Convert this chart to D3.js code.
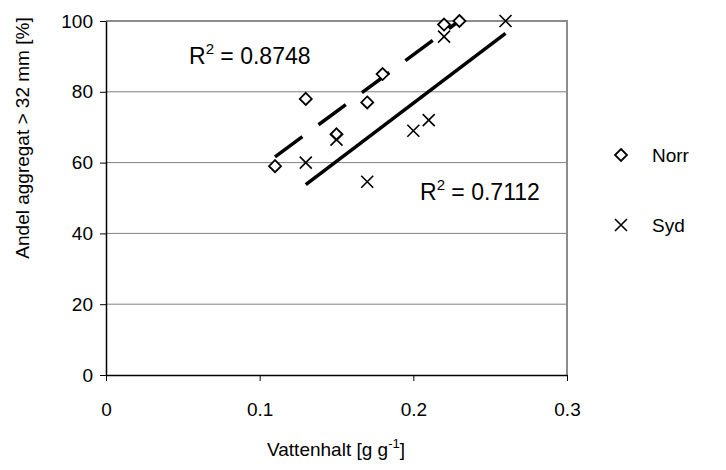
<!DOCTYPE html>
<html>
<head>
<meta charset="utf-8">
<script src="https://cdn.jsdelivr.net/npm/d3@7"></script>
<style>
  body { margin: 0; background: #fff; }
  svg { display: block; font-family: "Liberation Sans", Arial, sans-serif; }
</style>
</head>
<body>
<svg id="chart" width="726" height="470"></svg>
<script>
// Water content (g/g) vs share of aggregates > 32 mm (%)
const norrX = [0.11, 0.13, 0.15, 0.17, 0.18, 0.22, 0.23];
const norrY = [59, 78, 68, 77, 85, 99, 100];
const sydX = [0.13, 0.15, 0.17, 0.20, 0.21, 0.22, 0.26];
const sydY = [60, 66.5, 54.6, 69, 72, 95.6, 100];
const xTicks = [0, 0.1, 0.2, 0.3];
const yTicks = [0, 20, 40, 60, 80, 100];
const seriesNames = ["Norr", "Syd"];
const r2Labels = ["0.8748", "0.7112"];

const svg = d3.select("#chart");
const plotL = 106, plotR = 567, plotT = 21, plotB = 375;
const fs = 19;     // axis, tick and legend text
const fsR2 = 23;   // regression labels

const x = d3.scaleLinear().domain([0, 0.3]).range([plotL, plotR]);
const y = d3.scaleLinear().domain([0, 100]).range([plotB, plotT]);

// horizontal gridlines
svg.append("g").selectAll("line").data(yTicks.filter(d => d > 0 && d < 100)).join("line")
  .attr("x1", plotL).attr("x2", plotR)
  .attr("y1", d => y(d)).attr("y2", d => y(d))
  .attr("stroke", "#808080").attr("stroke-width", 1);

// plot frame (top and right)
svg.append("path")
  .attr("d", `M${plotL},${plotT}H${plotR}V${plotB}`)
  .attr("fill", "none").attr("stroke", "#8c8c8c").attr("stroke-width", 2);

// axes
const xAxis = d3.axisBottom(x).tickValues(xTicks).tickFormat(d => d === 0 ? "0" : d3.format(".1f")(d)).tickSizeInner(6).tickSizeOuter(0).tickPadding(22);
const yAxis = d3.axisLeft(y).tickValues(yTicks).tickSizeInner(6).tickSizeOuter(0).tickPadding(7);

const gx = svg.append("g").attr("transform", `translate(0,${plotB})`).call(xAxis);
const gy = svg.append("g").attr("transform", `translate(${plotL},0)`).call(yAxis);
[gx, gy].forEach(g => {
  g.select(".domain").attr("stroke", "#000").attr("stroke-width", 1.5);
  g.selectAll(".tick line").attr("stroke", "#000").attr("stroke-width", 1);
  g.selectAll(".tick text").attr("font-size", fs).attr("fill", "#000")
    .attr("font-family", "'Liberation Sans', Arial, sans-serif");
});

// least-squares trendline
function fit(xs, ys) {
  const mx = d3.mean(xs), my = d3.mean(ys);
  let sxy = 0, sxx = 0;
  xs.forEach((v, i) => { sxy += (v - mx) * (ys[i] - my); sxx += (v - mx) ** 2; });
  const b = sxy / sxx;
  return { b, a: my - b * mx };
}
function trend(xs, ys, dash) {
  const f = fit(xs, ys);
  const x0 = d3.min(xs), x1 = d3.max(xs);
  svg.append("line")
    .attr("x1", x(x0)).attr("y1", y(f.a + f.b * x0))
    .attr("x2", x(x1)).attr("y2", y(f.a + f.b * x1))
    .attr("stroke", "#000").attr("stroke-width", 3.5)
    .attr("stroke-dasharray", dash);
}
trend(norrX, norrY, "34,20");
trend(sydX, sydY, null);

// markers
const diamond = (g, cx, cy) => g.append("path")
  .attr("d", `M${cx},${cy - 6}L${cx + 6},${cy}L${cx},${cy + 6}L${cx - 6},${cy}Z`)
  .attr("fill", "#fff").attr("stroke", "#000").attr("stroke-width", 1.8);
const cross = (g, cx, cy) => g.append("path")
  .attr("d", `M${cx - 6},${cy - 6}L${cx + 6},${cy + 6}M${cx - 6},${cy + 6}L${cx + 6},${cy - 6}`)
  .attr("stroke", "#000").attr("stroke-width", 1.6).attr("fill", "none");

const pts = svg.append("g");
norrX.forEach((v, i) => diamond(pts, x(v), y(norrY[i])));
sydX.forEach((v, i) => cross(pts, x(v), y(sydY[i])));

// R² labels
function r2(xp, yp, val) {
  const t = svg.append("text").attr("x", xp).attr("y", yp).attr("font-size", fsR2).attr("fill", "#000");
  t.append("tspan").text("R");
  t.append("tspan").attr("dy", -10).attr("font-size", 15).text("2");
  t.append("tspan").attr("dy", 10).text(" = " + val);
}
r2(189, 64, r2Labels[0]);
r2(420, 200, r2Labels[1]);

// legend
const lg = svg.append("g");
diamond(lg, 621, 155);
cross(lg, 621, 225);
lg.append("text").attr("x", 652).attr("y", 162).attr("font-size", fs).text(seriesNames[0]);
lg.append("text").attr("x", 652).attr("y", 232).attr("font-size", fs).text(seriesNames[1]);

// axis titles
const xt = svg.append("text").attr("x", 336).attr("y", 456).attr("text-anchor", "middle").attr("font-size", fs);
xt.append("tspan").text("Vattenhalt [g g");
xt.append("tspan").attr("dy", -8).attr("font-size", 13).text("-1");
xt.append("tspan").attr("dy", 8).text("]");

svg.append("text")
  .attr("transform", "translate(29,138) rotate(-90)")
  .attr("text-anchor", "middle").attr("font-size", fs)
  .text("Andel aggregat > 32 mm [%]");
</script>
</body>
</html>
